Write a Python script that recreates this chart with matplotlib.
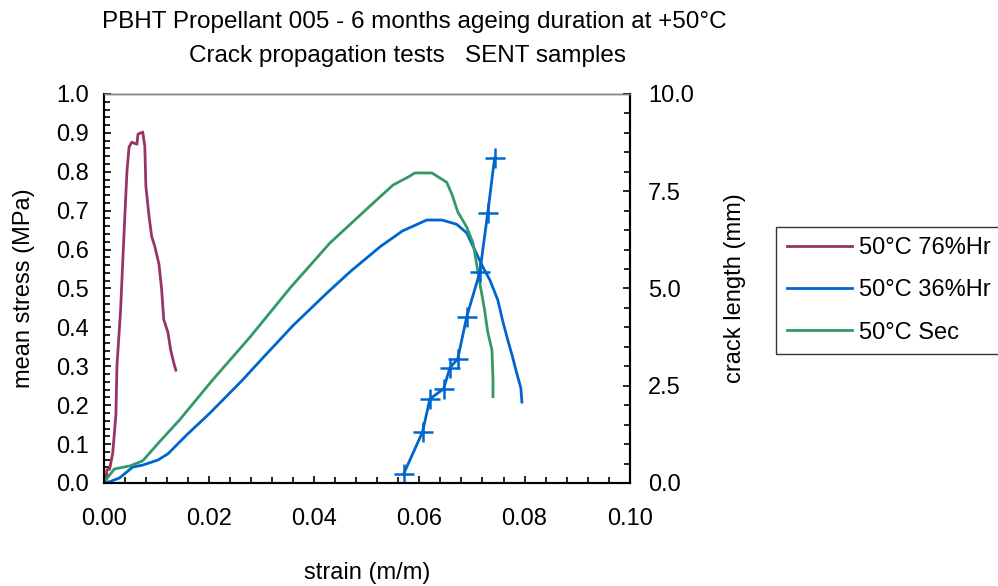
import matplotlib
matplotlib.use('Agg')
import matplotlib.pyplot as plt
from matplotlib.ticker import MultipleLocator, FormatStrFormatter
from matplotlib.lines import Line2D

plt.rcParams['font.family'] = ['Liberation Sans', 'DejaVu Sans']

# --- data ---
# 50°C 76%Hr : mean stress vs strain
strain_76 = [0.0, 0.0004, 0.0006, 0.0011, 0.0017, 0.0023, 0.0025, 0.0032, 0.0036, 0.0040,
             0.0044, 0.0048, 0.0053, 0.0063, 0.0065, 0.0074, 0.0078, 0.0080, 0.0086,
             0.0091, 0.0097, 0.0105, 0.0110, 0.0114, 0.0122, 0.0127, 0.0133, 0.0137]
stress_76 = [0.0, 0.01, 0.034, 0.035, 0.077, 0.175, 0.30, 0.446, 0.567, 0.686,
             0.80, 0.863, 0.876, 0.871, 0.897, 0.902, 0.866, 0.763, 0.686,
             0.634, 0.608, 0.562, 0.497, 0.42, 0.387, 0.343, 0.309, 0.29]

# 50°C 36%Hr : mean stress vs strain
strain_36 = [0.0, 0.0004, 0.0011, 0.0030, 0.0055, 0.0074, 0.0103, 0.0122, 0.0158, 0.0202,
             0.0264, 0.0302, 0.0360, 0.0424, 0.0470, 0.0511, 0.0525, 0.0568, 0.0614,
             0.0643, 0.0671, 0.0690, 0.0705, 0.0720, 0.0734, 0.0749, 0.0758, 0.0768,
             0.0777, 0.0785, 0.0793, 0.0795]
stress_36 = [0.0, 0.002, 0.003, 0.013, 0.041, 0.046, 0.059, 0.075, 0.124, 0.18,
             0.265, 0.321, 0.405, 0.488, 0.545, 0.591, 0.607, 0.648, 0.676,
             0.676, 0.665, 0.643, 0.60, 0.557, 0.522, 0.471, 0.419, 0.368,
             0.325, 0.283, 0.244, 0.208]

# 50°C Sec : mean stress vs strain
strain_sec = [0.0, 0.0004, 0.0020, 0.0050, 0.0074, 0.0106, 0.0144, 0.0207, 0.0278, 0.0354,
              0.0430, 0.0519, 0.0550, 0.0582, 0.0591, 0.0624, 0.0652, 0.0662, 0.0673,
              0.0690, 0.0702, 0.0715, 0.0724, 0.0730, 0.0738, 0.0740, 0.0740]
stress_sec = [0.0, 0.008, 0.036, 0.044, 0.057, 0.106, 0.162, 0.265, 0.375, 0.501,
              0.617, 0.728, 0.766, 0.789, 0.797, 0.797, 0.773, 0.742, 0.697,
              0.658, 0.617, 0.514, 0.445, 0.388, 0.342, 0.265, 0.222]

# 50°C 36%Hr : crack length vs strain
strain_crack = [0.0570, 0.0606, 0.0620, 0.0646, 0.0658, 0.0673, 0.0690, 0.0715, 0.0730, 0.0743]
crack_len = [0.23, 1.31, 2.16, 2.42, 2.96, 3.19, 4.27, 5.42, 6.94, 8.35]

c_76 = '#993366'
c_36 = '#0066CC'
c_sec = '#339966'
fs = 17

fig = plt.figure(figsize=(9.98, 5.86), dpi=100)
ax = fig.add_axes([0.104, 0.1758, 0.527, 0.6638])
ax2 = ax.twinx()

ax.plot(strain_76, stress_76, color=c_76, lw=2)
ax.plot(strain_36, stress_36, color=c_36, lw=2)
ax.plot(strain_sec, stress_sec, color=c_sec, lw=2)
ax2.plot(strain_crack, crack_len, color=c_36, lw=2, marker='+', ms=14, mew=1.8)

ax.set_xlim(0, 0.10)
ax.set_ylim(0, 1.0)
ax2.set_ylim(0, 10.0)

ax.xaxis.set_major_locator(MultipleLocator(0.02))
ax.xaxis.set_minor_locator(MultipleLocator(0.004))
ax.yaxis.set_major_locator(MultipleLocator(0.1))
ax.yaxis.set_minor_locator(MultipleLocator(0.02))
ax2.yaxis.set_major_locator(MultipleLocator(2.5))
ax2.yaxis.set_minor_locator(MultipleLocator(0.5))
ax.xaxis.set_major_formatter(FormatStrFormatter('%.2f'))
ax.yaxis.set_major_formatter(FormatStrFormatter('%.1f'))
ax2.yaxis.set_major_formatter(FormatStrFormatter('%.1f'))

for a in (ax, ax2):
    a.tick_params(which='both', direction='in', labelsize=fs, width=1.2)
    a.tick_params(which='major', length=5, pad=11)
    a.tick_params(which='minor', length=4)
    a.spines['top'].set_color('#808080')
    a.spines['top'].set_linewidth(1.0)
    for s in ('left', 'right', 'bottom'):
        a.spines[s].set_linewidth(1.5)
ax.tick_params(axis='x', pad=18)
ax2.tick_params(axis='y', pad=13)

ax.set_xlabel('strain (m/m)', fontsize=fs, labelpad=23)
ax.set_ylabel('mean stress (MPa)', fontsize=fs, labelpad=15)
ax2.set_ylabel('crack length (mm)', fontsize=fs, labelpad=22)

fig.text(0.415, 0.963, 'PBHT Propellant 005 - 6 months ageing duration at +50°C',
         ha='center', va='center', fontsize=17.5)
fig.text(0.408, 0.905, 'Crack propagation tests   SENT samples',
         ha='center', va='center', fontsize=17.5)

handles = [Line2D([], [], color=c_76, lw=2),
           Line2D([], [], color=c_36, lw=2),
           Line2D([], [], color=c_sec, lw=2)]
labels = ['50°C 76%Hr', '50°C 36%Hr', '50°C Sec']
leg = fig.legend(handles, labels, loc='upper left', bbox_to_anchor=(0.778, 0.613),
                 fontsize=fs, frameon=True, fancybox=False, handlelength=2.75,
                 handletextpad=0.3, labelspacing=0.85, borderpad=0.45,
                 borderaxespad=0)
leg.get_frame().set_edgecolor('black')
leg.get_frame().set_linewidth(1.0)

fig.savefig('out.png', dpi=100)
